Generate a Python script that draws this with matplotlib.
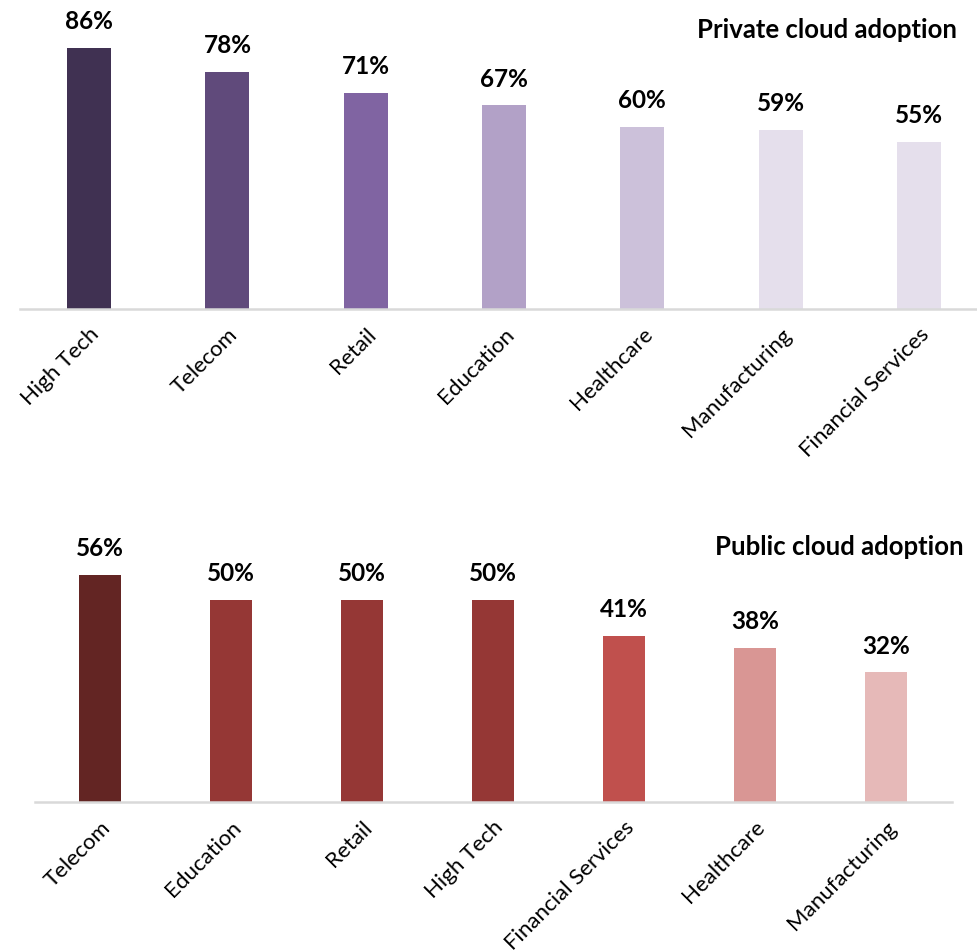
import matplotlib
matplotlib.use('Agg')
import matplotlib.pyplot as plt

plt.rcParams['font.family'] = ['Lato', 'DejaVu Sans']

# private cloud adoption by industry
private_labels = ['High Tech', 'Telecom', 'Retail', 'Education', 'Healthcare',
                  'Manufacturing', 'Financial Services']
private_values = [86, 78, 71, 67, 60, 59, 55]
private_colors = ['#403152', '#604a7b', '#8064a2', '#b2a1c7', '#ccc1da',
                  '#e5dfec', '#e5dfec']

# public cloud adoption by industry
public_labels = ['Telecom', 'Education', 'Retail', 'High Tech', 'Financial Services',
                 'Healthcare', 'Manufacturing']
public_values = [56, 50, 50, 50, 41, 38, 32]
public_colors = ['#632523', '#953735', '#953735', '#953735', '#c0504d',
                 '#d99694', '#e6b9b8']

W, H = 977, 951
fig = plt.figure(figsize=(W / 100, H / 100), dpi=100)


def draw_panel(rect, labels, values, colors, ymax, bar_w):
    ax = fig.add_axes(rect)
    x = range(len(values))
    ax.bar(x, values, width=bar_w, color=colors)
    for xi, v in zip(x, values):
        ax.annotate('{}%'.format(v), (xi, v), xytext=(0, 13.5),
                    textcoords='offset points', ha='center', va='baseline',
                    fontsize=17.5, fontweight='bold', color='black')
    ax.set_xlim(-0.5, len(values) - 0.5)
    ax.set_ylim(0, ymax)
    ax.set_yticks([])
    ax.set_xticks(list(x))
    ax.set_xticklabels(labels, rotation=45, ha='right', va='top',
                       rotation_mode='anchor', fontsize=16, color='black')
    ax.tick_params(axis='x', length=0, pad=11)
    for s in ['top', 'left', 'right']:
        ax.spines[s].set_visible(False)
    ax.spines['bottom'].set_color('#d9d9d9')
    ax.spines['bottom'].set_linewidth(1.8)
    ax.patch.set_alpha(0)
    return ax


# top panel: baseline at y=309 px, about 3.04 px per percent
draw_panel([20 / W, (H - 309) / H, 968 / W, 309 / H],
           private_labels, private_values, private_colors, 309 / 3.04, 0.318)
# bottom panel: baseline at y=802 px, about 4.05 px per percent
draw_panel([34.5 / W, (H - 802) / H, 917 / W, 282 / H],
           public_labels, public_values, public_colors, 282 / 4.05, 0.32)

fig.text(957 / W, (H - 30) / H, 'Private cloud adoption', ha='right', va='center',
         fontsize=18.5, fontweight='bold')
fig.text(964 / W, (H - 547) / H, 'Public cloud adoption', ha='right', va='center',
         fontsize=18.5, fontweight='bold')

fig.savefig('out.png', dpi=100, facecolor='white')
